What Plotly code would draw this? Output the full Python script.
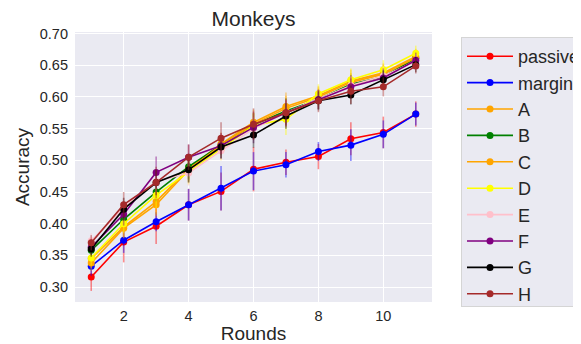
import plotly.graph_objects as go

rounds = [1, 2, 3, 4, 5, 6, 7, 8, 9, 10, 11]

names = ["passive", "margin", "A", "B", "C", "D", "E", "F", "G", "H"]
colors = ["red", "blue", "orange", "green", "orange", "yellow", "pink", "purple", "black", "brown"]

passive = [0.316, 0.371, 0.396, 0.430, 0.451, 0.486, 0.497, 0.506, 0.534, 0.544, 0.573]
margin = [0.333, 0.374, 0.403, 0.430, 0.456, 0.483, 0.493, 0.514, 0.524, 0.541, 0.573]
A = [0.345, 0.395, 0.435, 0.487, 0.526, 0.560, 0.585, 0.602, 0.625, 0.638, 0.664]
B = [0.358, 0.407, 0.450, 0.490, 0.524, 0.556, 0.578, 0.596, 0.620, 0.632, 0.661]
C = [0.338, 0.393, 0.430, 0.485, 0.524, 0.557, 0.582, 0.600, 0.623, 0.636, 0.662]
D = [0.346, 0.400, 0.445, 0.482, 0.518, 0.555, 0.565, 0.605, 0.627, 0.643, 0.669]
E = [0.373, 0.425, 0.467, 0.480, 0.515, 0.550, 0.575, 0.596, 0.618, 0.633, 0.656]
F = [0.363, 0.415, 0.481, 0.505, 0.523, 0.552, 0.575, 0.596, 0.616, 0.630, 0.658]
G = [0.360, 0.423, 0.465, 0.485, 0.521, 0.540, 0.570, 0.594, 0.603, 0.627, 0.651]
H = [0.370, 0.430, 0.465, 0.505, 0.535, 0.557, 0.575, 0.594, 0.609, 0.616, 0.649]

err_passive = [0.022, 0.032, 0.028, 0.025, 0.030, 0.035, 0.020, 0.020, 0.026, 0.025, 0.020]
err_margin = [0.015, 0.020, 0.015, 0.025, 0.035, 0.030, 0.020, 0.015, 0.025, 0.022, 0.018]
err_A = [0.015, 0.018, 0.020, 0.020, 0.018, 0.020, 0.022, 0.015, 0.018, 0.015, 0.012]
err_B = [0.012, 0.015, 0.018, 0.020, 0.015, 0.018, 0.020, 0.015, 0.015, 0.015, 0.012]
err_C = [0.012, 0.015, 0.018, 0.020, 0.015, 0.018, 0.020, 0.015, 0.015, 0.015, 0.012]
err_D = [0.012, 0.015, 0.020, 0.020, 0.018, 0.020, 0.025, 0.015, 0.018, 0.015, 0.012]
err_E = [0.012, 0.015, 0.018, 0.020, 0.015, 0.018, 0.020, 0.015, 0.015, 0.015, 0.012]
err_F = [0.012, 0.018, 0.025, 0.020, 0.020, 0.025, 0.020, 0.015, 0.018, 0.015, 0.012]
err_G = [0.012, 0.018, 0.020, 0.020, 0.018, 0.020, 0.020, 0.015, 0.015, 0.015, 0.012]
err_H = [0.012, 0.020, 0.025, 0.020, 0.025, 0.025, 0.022, 0.018, 0.020, 0.015, 0.012]

series = [passive, margin, A, B, C, D, E, F, G, H]
errors = [err_passive, err_margin, err_A, err_B, err_C, err_D, err_E, err_F, err_G, err_H]

rgb = {
    "red": (255, 0, 0), "blue": (0, 0, 255), "orange": (255, 165, 0),
    "green": (0, 128, 0), "yellow": (255, 255, 0), "pink": (255, 192, 203),
    "purple": (128, 0, 128), "black": (0, 0, 0), "brown": (165, 42, 42),
}

fig = go.Figure()
for name, col, vals, err in zip(names, colors, series, errors):
    r, g, b = rgb[col]
    fig.add_trace(go.Scatter(
        x=rounds, y=vals, name=name, mode="lines+markers",
        line=dict(color=col, width=1.6),
        marker=dict(color=col, size=7),
        error_y=dict(type="data", array=err, visible=True,
                     color=f"rgba({r},{g},{b},0.45)", thickness=1.6, width=0),
    ))

# page body has an 8px margin, so the figure is offset by 8px
W, Hh = 573, 336
pl, pr, pt, pb = 67, 424, 24, 294

font_family = "Liberation Sans, Arial, sans-serif"
fig.update_layout(
    width=W, height=Hh,
    margin=dict(l=pl, r=W - pr, t=pt, b=Hh - pb, autoexpand=False),
    paper_bgcolor="white",
    plot_bgcolor="#EAEAF2",
    font=dict(family=font_family, color="#262626", size=14),
    title=dict(text="Monkeys", x=(pl + pr) / 2 / W, xanchor="center",
               y=1 - 11 / Hh, yanchor="middle",
               font=dict(size=21, color="#262626")),
    xaxis=dict(range=[0.5, 11.5], tickvals=[2, 4, 6, 8, 10],
               showgrid=True, gridcolor="white", gridwidth=1.2, zeroline=False,
               ticks="", tickfont=dict(size=14.5), ticklabelstandoff=3,
               title=dict(text="Rounds", font=dict(size=19), standoff=5)),
    yaxis=dict(range=[0.2765, 0.7025], tickvals=[0.30, 0.35, 0.40, 0.45, 0.50, 0.55, 0.60, 0.65, 0.70],
               tickformat=".2f",
               showgrid=True, gridcolor="white", gridwidth=1.2, zeroline=False,
               ticks="", tickfont=dict(size=14.5), ticklabelstandoff=6,
               title=dict(text="Accuracy", font=dict(size=19), standoff=5)),
    legend=dict(x=(453 - pl) / (pr - pl), xanchor="left",
                y=(pb - 29) / (pb - pt), yanchor="top",
                bgcolor="#EAEAF2", bordercolor="#d5d5d5", borderwidth=1,
                font=dict(size=18, color="#262626"),
                itemwidth=46, tracegroupgap=0),
)

fig.write_html("out.html")
